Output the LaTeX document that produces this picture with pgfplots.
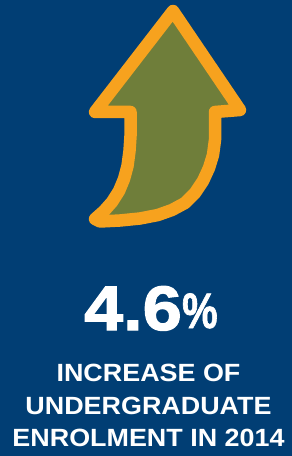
\documentclass[border=0pt]{standalone}
\usepackage{pgfplots}
\pgfplotsset{compat=1.18}
\usepackage{fontspec}
\setmainfont{Liberation Sans}
\newfontfamily\widefont[FakeStretch=1.08]{Liberation Sans}
\newfontfamily\bigfont[FakeStretch=1.12,FakeBold=2]{Liberation Sans}
\newfontfamily\pctfont[FakeBold=1.5]{Liberation Sans}
\definecolor{navy}{RGB}{1,62,116}
\definecolor{arroworange}{RGB}{247,162,30}
\definecolor{arrowgreen}{RGB}{111,126,58}
\begin{document}
\begin{tikzpicture}
\begin{axis}[
  width=292bp, height=456bp, scale only axis,
  xmin=0, xmax=292, ymin=0, ymax=456,
  y dir=reverse,
  hide axis,
  clip=true,
]
% background
\addplot[fill=navy, draw=none] coordinates {(0,0) (292,0) (292,456) (0,456)} -- cycle;
% arrow
\addplot[fill=arrowgreen, draw=arroworange, line width=12.5bp, line join=round] coordinates {
 (173,11) (240,110) (215,112)
 (215,125) (215,140) (213,155) (209,168) (203,181) (195,193) (185,203)
 (172,210) (158,215) (140,218.5) (120,220.5) (100,221.5) (95,219)
 (104,211) (112,202) (119,191) (124,179) (127.5,166) (129.5,151) (130.5,136) (130.5,112)
 (95,112)
} -- cycle;
\node[anchor=base east, text=white, inner sep=0pt, font=\bigfont\bfseries\fontsize{63}{63}\selectfont] at (axis cs:182,330) {4.6};
\node[anchor=base west, text=white, inner sep=0pt, font=\pctfont\bfseries\fontsize{50}{50}\selectfont] at (axis cs:182,328) {\scalebox{0.8}[1]{\%}};
\node[anchor=base, text=white, inner sep=0pt, font=\widefont\bfseries\fontsize{25}{25}\selectfont] at (axis cs:148.5,381.5) {INCREASE OF};
\node[anchor=base, text=white, inner sep=0pt, font=\widefont\bfseries\fontsize{25}{25}\selectfont] at (axis cs:148.5,414.5) {UNDERGRADUATE};
\node[anchor=base, text=white, inner sep=0pt, font=\widefont\bfseries\fontsize{25}{25}\selectfont] at (axis cs:148.5,446.5) {ENROLMENT IN 2014};
\end{axis}
\end{tikzpicture}
\end{document}
